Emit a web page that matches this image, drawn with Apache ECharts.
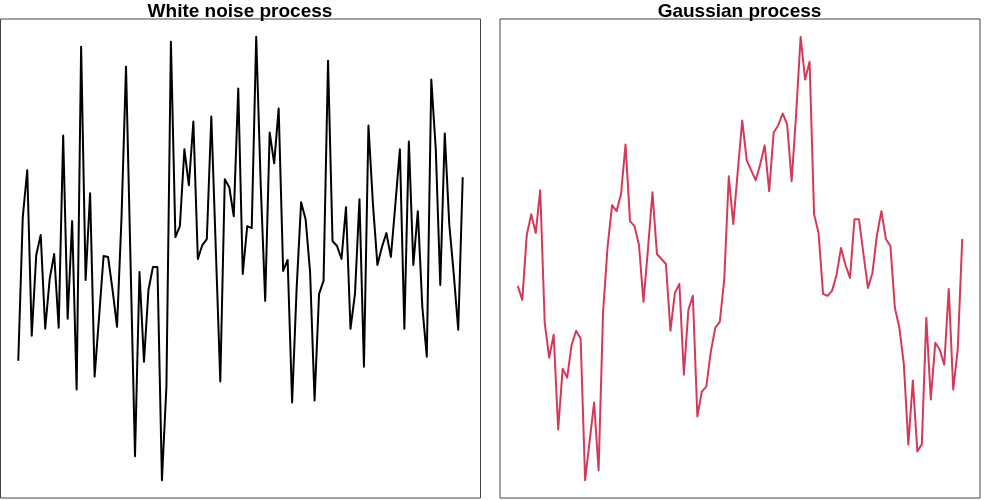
<!DOCTYPE html>
<html>
<head>
<meta charset="utf-8">
<script src="https://cdn.jsdelivr.net/npm/echarts@6/dist/echarts.min.js"></script>
<style>html,body{margin:0;padding:0;background:#fff}#c{width:1000px;height:500px}</style>
</head>
<body>
<div id="c"></div>
<script>
const titles = ["White noise process", "Gaussian process"];
const whiteNoise = [-1.02,0.42,0.89,-0.77,0.04,0.24,-0.70,-0.20,0.05,-0.69,
1.24,-0.60,0.38,-1.31,2.13,-0.21,0.66,-1.18,-0.58,0.03,
0.02,-0.31,-0.68,0.42,1.93,-0.02,-1.98,-0.13,-1.03,-0.31,
-0.08,-0.08,-2.22,-1.28,2.18,0.22,0.33,1.10,0.74,1.38,
0.00,0.14,0.20,1.43,0.10,-1.23,0.80,0.72,0.43,1.71,
-0.15,0.33,0.31,2.23,0.75,-0.42,1.27,0.96,1.51,-0.12,
-0.01,-1.44,-0.30,0.57,0.40,-0.13,-1.42,-0.35,-0.22,1.99,
0.18,0.13,0.00,0.52,-0.70,-0.35,0.60,-1.08,1.34,0.55,
-0.06,0.12,0.26,0.02,0.55,1.10,-0.70,1.18,-0.06,0.48,
-0.48,-0.98,1.80,1.10,-0.26,1.26,0.35,-0.15,-0.71,0.82];
const gaussian = [-0.27,-0.41,0.24,0.45,0.26,0.69,-0.64,-0.99,-0.76,-1.71,
-1.10,-1.19,-0.86,-0.72,-0.80,-2.22,-1.83,-1.44,-2.12,-0.53,
0.12,0.54,0.48,0.65,1.15,0.38,0.33,0.14,-0.43,0.10,
0.67,0.05,0.00,-0.05,-0.72,-0.34,-0.25,-1.16,-0.51,-0.37,
-1.58,-1.33,-1.28,-0.93,-0.69,-0.63,-0.20,0.83,0.35,0.88,
1.39,0.99,0.89,0.79,0.95,1.14,0.68,1.27,1.34,1.46,
1.35,0.78,1.45,2.23,1.80,1.98,0.45,0.26,-0.35,-0.37,
-0.32,-0.16,0.11,-0.06,-0.19,0.40,0.40,0.05,-0.29,-0.14,
0.24,0.48,0.20,0.13,-0.49,-0.69,-1.06,-1.86,-1.22,-1.93,
-1.86,-0.59,-1.41,-0.84,-0.91,-1.06,-0.30,-1.31,-0.91,0.20];
const lineColors = ["#000000", "#D5395A"];

function pad(arr){
  const mn = Math.min(...arr), mx = Math.max(...arr), d = mx - mn;
  return [mn - 0.04*d, mx + 0.04*d];
}
const n = whiteNoise.length;
const xr = [1 - 0.04*(n-1), n + 0.04*(n-1)];
const sets = [whiteNoise, gaussian];
const grids = [{left:0.5, top:19, width:480, height:479}, {left:500, top:19, width:480, height:479}];

const chart = echarts.init(document.getElementById('c'), null, {renderer:'canvas'});
chart.setOption({
  animation:false,
  backgroundColor:'#fff',
  title: titles.map((t,i)=>({
    text:t, left: grids[i].left + 234.5, top: -3, textAlign:'center',
    textStyle:{fontFamily:'Liberation Sans, Arial, sans-serif', fontWeight:'bold', fontSize:19, color:'#000'}
  })),
  grid: grids.map(g=>Object.assign({show:true, borderColor:'#444', borderWidth:1, backgroundColor:'transparent'}, g)),
  xAxis: sets.map((s,i)=>({type:'value', gridIndex:i, min:xr[0], max:xr[1], show:false})),
  yAxis: sets.map((s,i)=>{const r = pad(s); return {type:'value', gridIndex:i, min:r[0], max:r[1], show:false};}),
  series: sets.map((s,i)=>({
    type:'line', xAxisIndex:i, yAxisIndex:i, showSymbol:false, symbol:'none',
    data: s.map((v,k)=>[k+1, v]),
    lineStyle:{color:lineColors[i], width:2, join:'round'}
  }))
});
</script>
</body>
</html>
